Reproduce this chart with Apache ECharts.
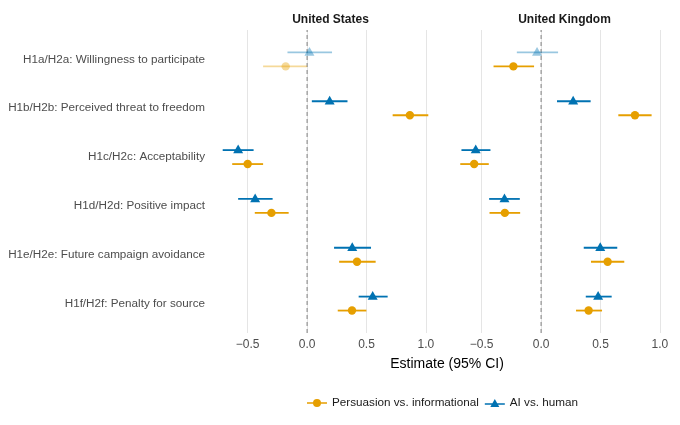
<!DOCTYPE html>
<html>
<head>
<meta charset="utf-8">
<script src="https://cdn.jsdelivr.net/npm/echarts@6/dist/echarts.min.js"></script>
<style>
  html, body { margin: 0; padding: 0; background: #fff; }
  #chart { width: 680px; height: 425px; }
</style>
</head>
<body>
<div id="chart"></div>
<script>
// 分类（从上到下）
const categories = [
  'H1a/H2a: Willingness to participate',
  'H1b/H2b: Perceived threat to freedom',
  'H1c/H2c: Acceptability',
  'H1d/H2d: Positive impact',
  'H1e/H2e: Future campaign avoidance',
  'H1f/H2f: Penalty for source'
];
const xTicks = [-0.5, 0, 0.5, 1.0];

// [估计值, 下限, 上限]
const usPersuasion = [[-0.18, -0.37, 0.00], [0.865, 0.72, 1.02], [-0.50, -0.63, -0.37], [-0.30, -0.44, -0.155], [0.42, 0.27, 0.577], [0.378, 0.258, 0.499]];
const usAiHuman = [[0.02, -0.165, 0.21], [0.19, 0.04, 0.34], [-0.58, -0.71, -0.45], [-0.437, -0.58, -0.29], [0.38, 0.227, 0.538], [0.552, 0.434, 0.678]];
const ukPersuasion = [[-0.233, -0.40, -0.059], [0.79, 0.65, 0.93], [-0.563, -0.68, -0.44], [-0.305, -0.434, -0.176], [0.56, 0.42, 0.70], [0.40, 0.294, 0.513]];
const ukAiHuman = [[-0.034, -0.204, 0.143], [0.27, 0.134, 0.417], [-0.55, -0.67, -0.426], [-0.308, -0.437, -0.179], [0.498, 0.359, 0.641], [0.48, 0.376, 0.594]];

// 是否显著（不显著的画淡一些）
const usPersuasionSig = [0, 1, 1, 1, 1, 1];
const usAiHumanSig = [0, 1, 1, 1, 1, 1];
const ukPersuasionSig = [1, 1, 1, 1, 1, 1];
const ukAiHumanSig = [0, 1, 1, 1, 1, 1];

// 零参考线
const zeroLine = [[0, 0], [0, 1]];

const ORANGE = '#E69F00';
const BLUE = '#0072B2';
const FONT = 'Liberation Sans';

const circleIcon = 'path://M0,3.3H20V4.7H0Z M6,4 A4,4 0 1,1 14,4 A4,4 0 1,1 6,4 Z';
const triIcon = 'path://M0,4.3H20V5.7H0Z M10,0 L14.5,8 L5.5,8 Z';

function toData(rows, sig) {
  return rows.map((r, i) => [r[0], i, r[1], r[2], sig[i]]);
}

function makeRender(color, shape, offset) {
  return function (params, api) {
    const cat = api.value(1);
    const band = api.size([0, 1])[1];
    const c = api.coord([api.value(0), cat]);
    const pLo = api.coord([api.value(2), cat]);
    const pHi = api.coord([api.value(3), cat]);
    const y = c[1] + offset * band;
    const op = api.value(4) ? 1 : 0.4;
    let marker;
    if (shape === 'circle') {
      marker = { type: 'circle', shape: { cx: c[0], cy: y, r: 4.2 }, style: { fill: color, opacity: op } };
    } else {
      marker = {
        type: 'polygon',
        shape: { points: [[c[0], y - 5.5], [c[0] + 5, y + 3.2], [c[0] - 5, y + 3.2]] },
        style: { fill: color, opacity: op }
      };
    }
    return {
      type: 'group',
      children: [
        { type: 'line', shape: { x1: pLo[0], y1: y, x2: pHi[0], y2: y }, style: { stroke: color, lineWidth: 1.8, opacity: op } },
        marker
      ]
    };
  };
}

function makeSeries(name, idx, rows, sig, color, shape, offset) {
  return {
    name: name,
    type: 'custom',
    xAxisIndex: idx,
    yAxisIndex: idx,
    itemStyle: { color: color },
    renderItem: makeRender(color, shape, offset),
    encode: { x: [0, 2, 3], y: 1 },
    data: toData(rows, sig),
    silent: true,
    z: 3
  };
}

function zeroSeries(idx) {
  return {
    type: 'line',
    xAxisIndex: idx,
    yAxisIndex: idx,
    data: zeroLine,
    symbol: 'none',
    silent: true,
    lineStyle: { color: '#808080', type: [4, 3], width: 1 },
    z: 1
  };
}

// 数据用的坐标轴（隐藏）
function makeXAxis(idx) {
  return {
    type: 'value',
    gridIndex: idx,
    min: -0.8,
    max: 1.11,
    axisLine: { show: false },
    axisTick: { show: false },
    axisLabel: { show: false },
    splitLine: { show: false }
  };
}

// 背景坐标轴：网格线和刻度标签
function makeBgXAxis(idx) {
  return {
    type: 'value',
    gridIndex: idx,
    min: -0.8,
    max: 1.11,
    axisLine: { show: false },
    axisTick: { show: false, customValues: xTicks },
    axisLabel: {
      customValues: xTicks,
      color: '#4D4D4D',
      fontFamily: FONT,
      fontSize: 12,
      margin: 6,
      formatter: v => v.toFixed(1).replace('-', '\u2212')
    },
    splitLine: { show: true, lineStyle: { color: '#E5E5E5', width: 1 } }
  };
}

function makeYAxis(idx, showLabels) {
  return {
    type: 'category',
    gridIndex: idx,
    data: categories,
    inverse: true,
    axisLine: { show: false },
    axisTick: { show: false },
    splitLine: { show: false },
    axisLabel: { show: showLabels, color: '#4D4D4D', fontFamily: FONT, fontSize: 11.7, margin: 7 }
  };
}

function makeBgYAxis(idx) {
  return {
    type: 'value',
    gridIndex: idx,
    min: 0,
    max: 1,
    show: false
  };
}

const chart = echarts.init(document.getElementById('chart'), null, { renderer: 'canvas' });

chart.setOption({
  animation: false,
  backgroundColor: '#fff',
  textStyle: { fontFamily: FONT },
  title: [
    { text: 'United States', left: 325.5, top: 9, textAlign: 'center',
      textStyle: { fontSize: 12, fontWeight: 'bold', color: '#1A1A1A', fontFamily: FONT } },
    { text: 'United Kingdom', left: 559.5, top: 9, textAlign: 'center',
      textStyle: { fontSize: 12, fontWeight: 'bold', color: '#1A1A1A', fontFamily: FONT } },
    { text: 'Estimate (95% CI)', left: 442, top: 352, textAlign: 'center',
      textStyle: { fontSize: 14, fontWeight: 'normal', color: '#000', fontFamily: FONT } }
  ],
  grid: [
    { left: 212, width: 227, top: 35, height: 293 },
    { left: 446, width: 227, top: 35, height: 293 },
    { left: 212, width: 227, top: 30, height: 303 },
    { left: 446, width: 227, top: 30, height: 303 }
  ],
  xAxis: [makeXAxis(0), makeXAxis(1), makeBgXAxis(2), makeBgXAxis(3)],
  yAxis: [makeYAxis(0, true), makeYAxis(1, false), makeBgYAxis(2), makeBgYAxis(3)],
  legend: {
    left: 302,
    top: 392,
    itemWidth: 20,
    itemHeight: 8,
    itemGap: 6,
    textStyle: { color: '#1A1A1A', fontSize: 11.7, fontFamily: FONT },
    data: [
      { name: 'Persuasion vs. informational', icon: circleIcon, itemStyle: { color: ORANGE } },
      { name: 'AI vs. human', icon: triIcon, itemStyle: { color: BLUE } }
    ]
  },
  series: [
    zeroSeries(2),
    zeroSeries(3),
    makeSeries('Persuasion vs. informational', 0, usPersuasion, usPersuasionSig, ORANGE, 'circle', 0.143),
    makeSeries('AI vs. human', 0, usAiHuman, usAiHumanSig, BLUE, 'triangle', -0.143),
    makeSeries('Persuasion vs. informational', 1, ukPersuasion, ukPersuasionSig, ORANGE, 'circle', 0.143),
    makeSeries('AI vs. human', 1, ukAiHuman, ukAiHumanSig, BLUE, 'triangle', -0.143)
  ]
});
</script>
</body>
</html>
